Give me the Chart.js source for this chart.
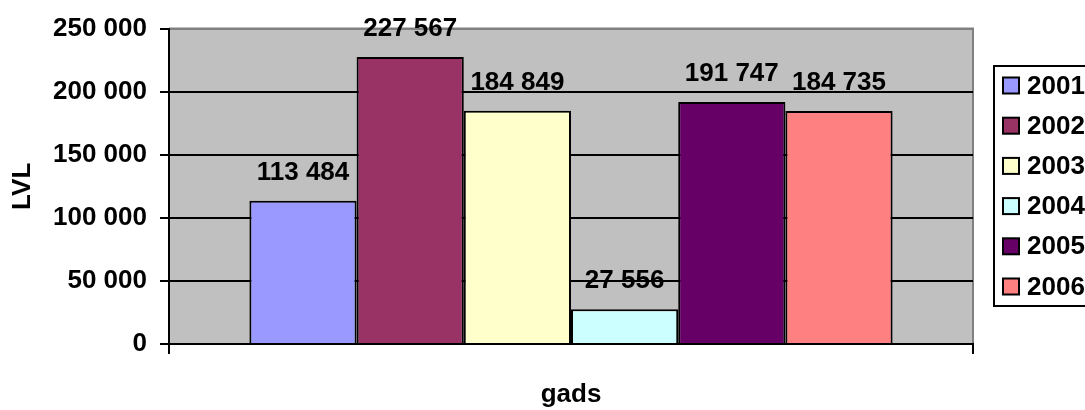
<!DOCTYPE html>
<html>
<head>
<meta charset="utf-8">
<script src="https://cdn.jsdelivr.net/npm/chart.js@4/dist/chart.umd.min.js"></script>
<style>
  html, body { margin: 0; padding: 0; background: #ffffff; }
  #wrap { width: 1085px; height: 410px; position: relative; }
</style>
</head>
<body>
<div id="wrap"><canvas id="c" width="1085" height="410"></canvas></div>
<script>
// ---- data ----
const categories = [''];
const seriesNames = ['2001', '2002', '2003', '2004', '2005', '2006'];
const seriesValues = [113484, 227567, 184849, 27556, 191747, 184735];
const seriesColors = ['#9999FF', '#993366', '#FFFFCC', '#CCFFFF', '#660066', '#FF8080'];
const yTicks = [0, 50000, 100000, 150000, 200000, 250000];
const yTitle = 'LVL';
const xTitle = 'gads';

function fmt(v) { return String(v).replace(/\B(?=(\d{3})+(?!\d))/g, ' '); }

const FONT = "'Liberation Sans', Arial, sans-serif";
Chart.defaults.font.family = FONT;
Chart.defaults.font.size = 26;
Chart.defaults.font.weight = 'bold';
Chart.defaults.color = '#000';

const plotBg = {
  id: 'plotBg',
  beforeDraw(chart) {
    const { ctx, chartArea: a } = chart;
    ctx.save();
    ctx.fillStyle = '#C0C0C0';
    ctx.fillRect(a.left, a.top, a.right - a.left, a.bottom - a.top);
    ctx.strokeStyle = '#808080';
    ctx.lineWidth = 2;
    ctx.beginPath();
    ctx.moveTo(a.left, a.top);
    ctx.lineTo(a.right, a.top);
    ctx.lineTo(a.right, a.bottom);
    ctx.stroke();
    ctx.restore();
  }
};

const valueLabels = {
  id: 'valueLabels',
  afterDraw(chart) {
    const { ctx } = chart;
    ctx.save();
    ctx.font = 'bold 26px ' + FONT;
    ctx.fillStyle = '#000';
    ctx.textAlign = 'center';
    ctx.textBaseline = 'middle';
    chart.data.datasets.forEach((ds, i) => {
      const meta = chart.getDatasetMeta(i);
      meta.data.forEach((bar, j) => {
        ctx.fillText(fmt(ds.data[j]), bar.x, bar.y - 28);
      });
    });
    ctx.restore();
  }
};

const boxLegend = {
  id: 'boxLegend',
  afterDraw(chart) {
    const { ctx } = chart;
    ctx.save();
    ctx.strokeStyle = '#000';
    ctx.lineWidth = 2;
    ctx.strokeRect(994, 66, 120, 240);
    ctx.font = 'bold 26px ' + FONT;
    ctx.textAlign = 'left';
    ctx.textBaseline = 'middle';
    chart.data.datasets.forEach((ds, i) => {
      const cy = 85.5 + i * 40.2;
      ctx.fillStyle = ds.backgroundColor;
      ctx.fillRect(1003, cy - 8, 16, 16);
      ctx.lineWidth = 2;
      ctx.strokeStyle = '#000';
      ctx.strokeRect(1003, cy - 8, 16, 16);
      ctx.fillStyle = '#000';
      ctx.fillText(ds.label, 1027, cy + 1);
    });
    ctx.restore();
  }
};

new Chart(document.getElementById('c'), {
  type: 'bar',
  data: {
    labels: categories,
    datasets: seriesNames.map((n, i) => ({
      label: n,
      data: [seriesValues[i]],
      backgroundColor: seriesColors[i],
      borderColor: '#000',
      borderWidth: 2,
      categoryPercentage: 0.8,
      barPercentage: 1.0
    }))
  },
  options: {
    responsive: false,
    animation: false,
    devicePixelRatio: 1,
    layout: { padding: { top: 27, right: 112, left: 0, bottom: 0 } },
    plugins: { legend: { display: false }, tooltip: { enabled: false } },
    scales: {
      x: {
        offset: true,
        grid: { display: true, offset: true, drawOnChartArea: false, drawTicks: true, tickLength: 10, tickColor: '#000', lineWidth: 2, color: '#000' },
        border: { display: true, color: '#000', width: 2 },
        ticks: { display: false },
        title: { display: true, text: xTitle, font: { size: 26, weight: 'bold', lineHeight: 1.2 }, padding: { top: 0, bottom: 0 } },
        afterFit(scale) { scale.height = 66; }
      },
      y: {
        min: 0, max: 250000,
        afterBuildTicks(scale) { scale.ticks = yTicks.map(v => ({ value: v })); },
        ticks: { padding: 13, callback: v => fmt(v), font: { size: 26, weight: 'bold' } },
        grid: {
          color: ctx => (ctx.tick && ctx.tick.value === 250000) ? '#808080' : '#000',
          tickColor: '#000', lineWidth: 2, tickLength: 9, drawTicks: true
        },
        border: { display: true, color: '#000', width: 2 },
        title: { display: true, text: yTitle, font: { size: 26, weight: 'bold', lineHeight: 1.2 }, padding: { top: 7, bottom: 0 } },
        afterFit(scale) { scale.width = 169; }
      }
    }
  },
  plugins: [plotBg, valueLabels, boxLegend]
});
</script>
</body>
</html>
